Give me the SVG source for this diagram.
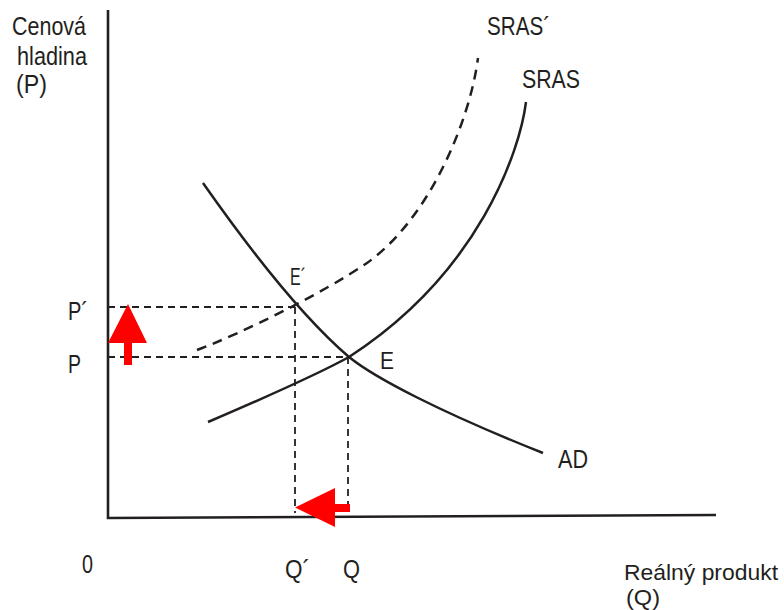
<svg xmlns="http://www.w3.org/2000/svg" width="784" height="610" viewBox="0 0 784 610">
<style>
.t{font-family:"Liberation Sans",Arial,sans-serif;font-size:25px;fill:#231f20}
.s{font-size:24px}
.b{font-size:22.5px}
.curve{fill:none;stroke:#231f20;stroke-width:2.5}
.guide{fill:none;stroke:#231f20;stroke-width:1.8;stroke-dasharray:7 5}
.arr{fill:#ff0000;stroke:none}
</style>
<rect width="784" height="610" fill="#fff"/>
<g id="axes">
<path d="M108,10 L108,518 L716,515" fill="none" stroke="#231f20" stroke-width="2.6"/>
</g>
<g id="guides">
<path class="guide" d="M108,307 H296"/>
<path class="guide" d="M108,357 H348"/>
<path class="guide" d="M295,307 V513" stroke-width="1.5" stroke-dasharray="6 4"/>
<path class="guide" d="M348,357 V513" stroke-width="2.4" stroke-dasharray="8 4"/>
</g>
<g id="connectors">
<path id="AD" class="curve" d="M203,183 C250,250 300,315 349,357 C375,378 440,412 543,453"/>
<path id="SRAS" class="curve" d="M208,422 C250,404 320,373 349,357 C480,272 520,150 526,102"/>
<path id="SRAS2" class="curve" stroke-dasharray="10 7" d="M197,350 C240,334 320,295 367,263 C430,218 470,120 478,58"/>
</g>
<g id="arrows">
<path class="arr" d="M128,304 L147,343 L132,343 L132,365 L124,365 L124,343 L108,343 Z"/>
<path class="arr" d="M295,507.5 L335,488 L335,504 L350,504 L350,512 L335,512 L335,527 Z"/>
</g>
<g id="labels">
<text class="t" x="12" y="35" textLength="74" lengthAdjust="spacingAndGlyphs">Cenová</text>
<text class="t" x="17" y="65" textLength="70" lengthAdjust="spacingAndGlyphs">hladina</text>
<text class="t" x="16" y="93" textLength="31" lengthAdjust="spacingAndGlyphs">(P)</text>
<text class="t" x="487" y="35" textLength="63" lengthAdjust="spacingAndGlyphs">SRAS´</text>
<text class="t" x="522" y="88" textLength="58" lengthAdjust="spacingAndGlyphs">SRAS</text>
<text class="t s" x="290" y="285" textLength="16" lengthAdjust="spacingAndGlyphs">E´</text>
<text class="t s" x="380" y="369" textLength="14" lengthAdjust="spacingAndGlyphs">E</text>
<text class="t" x="68" y="320" textLength="20" lengthAdjust="spacingAndGlyphs">P´</text>
<text class="t" x="68" y="373" textLength="13" lengthAdjust="spacingAndGlyphs">P</text>
<text class="t" x="558" y="468" textLength="30" lengthAdjust="spacingAndGlyphs">AD</text>
<text class="t" x="82" y="573" textLength="11" lengthAdjust="spacingAndGlyphs">0</text>
<text class="t" x="285" y="578" textLength="25" lengthAdjust="spacingAndGlyphs">Q´</text>
<text class="t" x="343" y="578" textLength="17" lengthAdjust="spacingAndGlyphs">Q</text>
<text class="t b" x="624" y="580" textLength="154" lengthAdjust="spacingAndGlyphs">Reálný produkt</text>
<text class="t b" x="626" y="605" textLength="34" lengthAdjust="spacingAndGlyphs">(Q)</text>
</g>
</svg>
